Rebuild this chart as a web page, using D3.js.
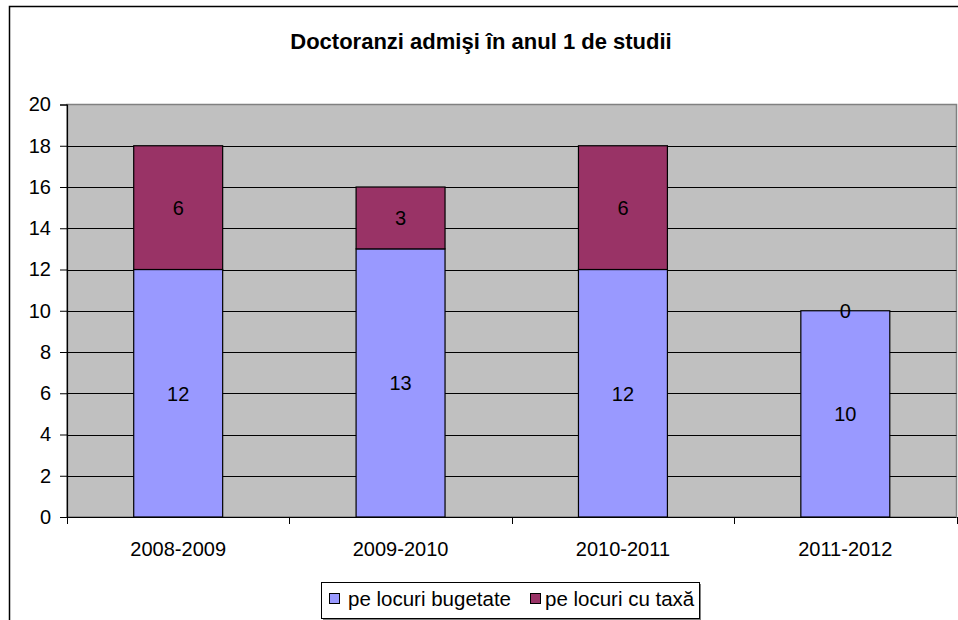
<!DOCTYPE html>
<html><head><meta charset="utf-8">
<script src="https://cdn.jsdelivr.net/npm/d3@7/dist/d3.min.js"></script>
<style>body{margin:0;background:#fff;}svg{display:block;font-family:"Liberation Sans",Arial,sans-serif;}</style>
</head><body>
<script>
const title = "Doctoranzi admişi în anul 1 de studii";
const categories = ["2008-2009", "2009-2010", "2010-2011", "2011-2012"];
const seriesNames = ["pe locuri bugetate", "pe locuri cu taxă"];
const bugetate = [12, 13, 12, 10];
const taxa = [6, 3, 6, 0];
const yTicks = [0, 2, 4, 6, 8, 10, 12, 14, 16, 18, 20];
const colors = ["#9999FF", "#993366"];

const W = 958, H = 620;
const FS = 20;
const svg = d3.select("body").append("svg").attr("width", W).attr("height", H);

// outer chart border
svg.append("rect").attr("x", 9.5).attr("y", 6.5).attr("width", 960).attr("height", 630)
  .attr("fill", "#fff").attr("stroke", "#000").attr("stroke-width", 1.5);

const plot = {l: 67, r: 956.5, t: 104.5, b: 517};
const x = d3.scaleBand().domain(categories).range([plot.l, plot.r]).paddingInner(0.6).paddingOuter(0.3);
const xOuter = d3.scaleBand().domain(categories).range([plot.l, plot.r]);
const y = d3.scaleLinear().domain([0, 20]).range([plot.b, plot.t]);

svg.append("rect").attr("x", plot.l).attr("y", plot.t).attr("width", plot.r - plot.l).attr("height", plot.b - plot.t)
  .attr("fill", "#C0C0C0").attr("stroke", "#808080").attr("stroke-width", 1.5);

// gridlines
svg.append("g").selectAll("line").data(yTicks.filter(d => d > 0 && d < 20)).join("line")
  .attr("x1", plot.l).attr("x2", plot.r)
  .attr("y1", d => Math.round(y(d)) + 0.5).attr("y2", d => Math.round(y(d)) + 0.5)
  .attr("stroke", "#000").attr("stroke-width", 1);

// stacked bars
const rows = categories.map((c, i) => ({cat: c, [seriesNames[0]]: bugetate[i], [seriesNames[1]]: taxa[i]}));
const stack = d3.stack().keys(seriesNames)(rows);
stack.forEach((layer, li) => {
  const g = svg.append("g");
  g.selectAll("rect").data(layer).join("rect")
    .attr("x", d => x(d.data.cat)).attr("width", x.bandwidth())
    .attr("y", d => y(d[1])).attr("height", d => y(d[0]) - y(d[1]))
    .attr("fill", colors[li]).attr("stroke", "#000").attr("stroke-width", 1.2);
});
stack.forEach((layer, li) => {
  svg.append("g").selectAll("text").data(layer).join("text")
    .attr("x", d => x(d.data.cat) + x.bandwidth() / 2)
    .attr("y", d => (y(d[0]) + y(d[1])) / 2 + 7.5)
    .attr("text-anchor", "middle").attr("font-size", FS).attr("fill", "#000")
    .text(d => d[1] - d[0]);
});

// y axis
const yAxis = d3.axisLeft(y).tickValues(yTicks).tickSize(7).tickPadding(9).tickFormat(d3.format("d"));
const ya = svg.append("g").attr("transform", `translate(${plot.l},0)`).call(yAxis);
ya.select(".domain").attr("stroke", "#000").attr("stroke-width", 1.2);
ya.selectAll(".tick line").attr("stroke", "#000");
ya.selectAll("text").attr("font-size", FS).attr("fill", "#000").attr("font-family", "Liberation Sans, Arial, sans-serif");

// x axis
const xa = svg.append("g").attr("transform", `translate(0,${plot.b})`);
xa.append("line").attr("x1", plot.l).attr("x2", plot.r).attr("y1", 0.5).attr("y2", 0.5).attr("stroke", "#000").attr("stroke-width", 1.2);
const bounds = categories.map(c => xOuter(c)).concat([plot.r]);
xa.selectAll("line.tk").data(bounds).join("line").attr("class", "tk")
  .attr("x1", d => Math.round(d) + 0.5).attr("x2", d => Math.round(d) + 0.5).attr("y1", 0).attr("y2", 7)
  .attr("stroke", "#000");
xa.selectAll("text").data(categories).join("text")
  .attr("x", d => xOuter(d) + xOuter.bandwidth() / 2).attr("y", 39)
  .attr("text-anchor", "middle").attr("font-size", FS).attr("fill", "#000").text(d => d);

// title
svg.append("text").attr("x", 481).attr("y", 49).attr("text-anchor", "middle")
  .attr("font-size", 22).attr("font-weight", "bold").text(title);

// legend
const lg = svg.append("g");
lg.append("rect").attr("x", 323).attr("y", 584).attr("width", 378).attr("height", 36).attr("fill", "#808080");
lg.append("rect").attr("x", 321.5).attr("y", 582.5).attr("width", 378).attr("height", 36)
  .attr("fill", "#fff").attr("stroke", "#000").attr("stroke-width", 1);
const legendItems = [{name: seriesNames[0], x: 329, tx: 348, c: colors[0]}, {name: seriesNames[1], x: 530, tx: 545, c: colors[1]}];
legendItems.forEach(it => {
  lg.append("rect").attr("x", it.x + 0.5).attr("y", 593.5).attr("width", 10).attr("height", 10)
    .attr("fill", it.c).attr("stroke", "#000").attr("stroke-width", 1);
  lg.append("text").attr("x", it.tx).attr("y", 606).attr("font-size", 20.5).text(it.name);
});
</script>
</body></html>
